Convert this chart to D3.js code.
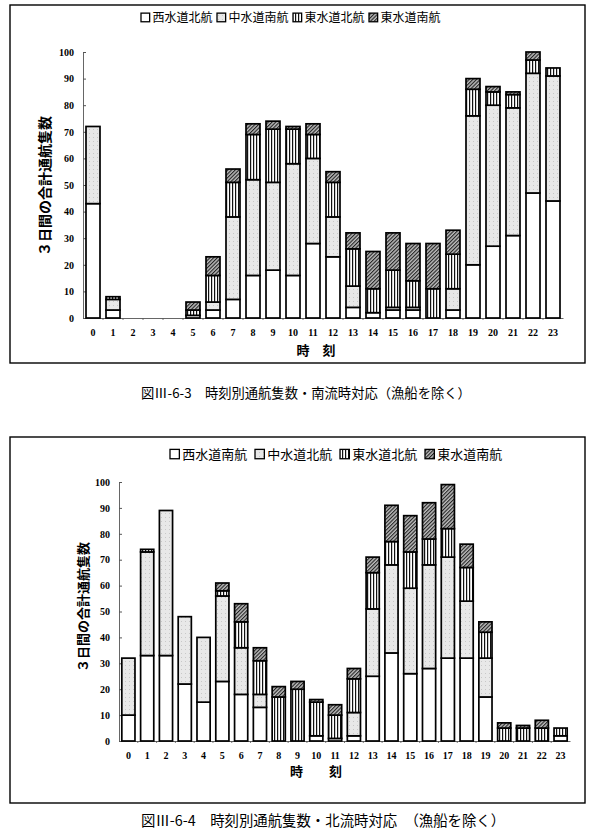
<!DOCTYPE html>
<html><head><meta charset="utf-8">
<script src="https://cdn.jsdelivr.net/npm/d3@7"></script>
<style>body{margin:0;background:#fff}svg{display:block}</style>
</head><body>
<svg id="c" width="600" height="839"></svg>
<script>
const hours = ["0","1","2","3","4","5","6","7","8","9","10","11","12","13","14","15","16","17","18","19","20","21","22","23"];
const yTicks = [0,10,20,30,40,50,60,70,80,90,100];
const legend1 = ["西水道北航","中水道南航","東水道北航","東水道南航"];
const legend2 = ["西水道南航","中水道北航","東水道北航","東水道南航"];
// Fig III-6-3 (south flow)
const s1West   = [43,3,0,0,0,1,3,7,16,18,16,28,23,4,2,3,3,0,3,20,27,31,47,44];
const s1Center = [29,4,0,0,0,0,3,31,36,33,42,32,15,8,0,1,1,0,8,56,53,48,45,47];
const s1EastN  = [0,1,0,0,0,2,10,13,17,20,13,9,13,14,9,14,10,11,13,10,5,5,5,3];
const s1EastS  = [0,0,0,0,0,3,7,5,4,3,1,4,4,6,14,14,14,17,9,4,2,1,3,0];
// Fig III-6-4 (north flow)
const s2West   = [10,33,33,22,15,23,18,13,0,0,2,1,2,25,34,26,28,32,32,17,0,0,0,2];
const s2Center = [22,40,56,26,25,33,18,5,0,0,0,0,9,26,34,33,40,39,22,15,0,0,0,0];
const s2EastN  = [0,1,0,0,0,2,10,13,17,20,13,9,13,14,9,14,10,11,13,10,5,5,5,3];
const s2EastS  = [0,0,0,0,0,3,7,5,4,3,1,4,4,6,14,14,14,17,9,4,2,1,3,0];
const caption1 = "図Ⅲ-6-3　時刻別通航隻数・南流時対応（漁船を除く）";
const caption2 = "図Ⅲ-6-4　時刻別通航隻数・北流時対応　（漁船を除く）";
const yTitle = "３日間の合計通航隻数";

const svg = d3.select("#c");
const defs = svg.append("defs");
// stipple gray
const pg = defs.append("pattern").attr("id","pGray").attr("patternUnits","userSpaceOnUse").attr("width",4).attr("height",4);
pg.append("rect").attr("width",4).attr("height",4).attr("fill","#e8e8e8");
pg.append("rect").attr("x",1).attr("y",1).attr("width",1).attr("height",1).attr("fill","#c8c8c8");
// vertical stripes
const ps = defs.append("pattern").attr("id","pStripe").attr("patternUnits","userSpaceOnUse").attr("width",3).attr("height",3);
ps.append("rect").attr("width",3).attr("height",3).attr("fill","#fff");
ps.append("rect").attr("x",1).attr("width",1.2).attr("height",3).attr("fill","#111");
// diagonal hatch
const ph = defs.append("pattern").attr("id","pHatch").attr("patternUnits","userSpaceOnUse").attr("width",2.6).attr("height",2.6).attr("patternTransform","rotate(45)");
ph.append("rect").attr("width",2.6).attr("height",2.6).attr("fill","#bbb");
ph.append("rect").attr("width",1.1).attr("height",2.6).attr("fill","#222");

const fills = ["#fff","url(#pGray)","url(#pStripe)","url(#pHatch)"];
const serif = "'Liberation Serif','DejaVu Serif',serif";
const jp = "'Noto Sans CJK JP','Noto Sans CJK SC',sans-serif";

function drawChart(cfg){
  const g = svg.append("g");
  g.append("rect").attr("x",cfg.fx).attr("y",cfg.fy).attr("width",cfg.fw).attr("height",cfg.fh)
    .attr("fill","none").attr("stroke","#000").attr("stroke-width",1.4);
  const x = d3.scaleBand().domain(hours).range([cfg.x0,cfg.x1]).paddingInner(0.3).paddingOuter(0.15);
  const y = d3.scaleLinear().domain([0,100]).range([cfg.y0,cfg.y1]);
  const keys = ["a","b","c","d"];
  const rows = hours.map((h,i)=>({h, a:cfg.series[0][i], b:cfg.series[1][i], c:cfg.series[2][i], d:cfg.series[3][i]}));
  const stack = d3.stack().keys(keys)(rows);
  // axes
  const ya = g.append("g").attr("transform",`translate(${cfg.x0},0)`)
    .call(d3.axisLeft(y).tickValues(yTicks).tickSizeInner(-3).tickSizeOuter(0).tickPadding(9));
  ya.select(".domain").attr("stroke","#555").attr("stroke-width",0.9);
  ya.selectAll(".tick line").attr("stroke","#555");
  ya.selectAll("text").attr("font-family",serif).attr("font-weight","bold").attr("font-size",cfg.tickFs).attr("fill","#000");
  const xa = g.append("g").attr("transform",`translate(0,${cfg.y0})`)
    .call(d3.axisBottom(x).tickSize(0).tickPadding(cfg.xPad));
  xa.select(".domain").attr("stroke","#555").attr("stroke-width",0.9);
  xa.selectAll("text").attr("font-family",serif).attr("font-weight","bold").attr("font-size",cfg.tickFs).attr("fill","#000");
  // small ticks between bands
  g.append("g").selectAll("line").data(hours.slice(1)).join("line")
    .attr("x1",d=>x(d)-x.step()*x.paddingInner()/2).attr("x2",d=>x(d)-x.step()*x.paddingInner()/2)
    .attr("y1",cfg.y0).attr("y2",cfg.y0+2).attr("stroke","#555").attr("stroke-width",0.8);
  // bars
  stack.forEach((layer,li)=>{
    g.append("g").selectAll("rect").data(layer.filter(d=>d[1]-d[0]>0)).join("rect")
      .attr("x",d=>x(d.data.h)).attr("width",x.bandwidth())
      .attr("y",d=>y(d[1])).attr("height",d=>y(d[0])-y(d[1]))
      .attr("fill",fills[li]).attr("stroke","#000").attr("stroke-width",1.7);
  });
  // legend
  const lg = g.append("g").attr("transform",`translate(${cfg.lx},${cfg.ly})`);
  cfg.legend.forEach((t,i)=>{
    const ox = i*cfg.lstep;
    lg.append("rect").attr("x",ox).attr("y",-cfg.lfs*0.74).attr("width",cfg.lfs*0.72).attr("height",cfg.lfs*0.72)
      .attr("fill",fills[i]).attr("stroke","#000").attr("stroke-width",1.3);
    lg.append("text").attr("x",ox+cfg.lfs*0.95).attr("y",0).attr("font-family",jp).attr("font-size",cfg.lfs).text(t);
  });
  // y title
  g.append("text").attr("transform",`translate(${cfg.ytx},${cfg.yty}) rotate(-90)`)
    .attr("text-anchor","middle").attr("font-family",jp).attr("font-size",cfg.ytfs).attr("font-weight","bold").text(yTitle);
  // x title
  g.append("text").attr("x",cfg.xtx).attr("y",cfg.xty).attr("text-anchor","middle")
    .attr("font-family",jp).attr("font-weight","bold").attr("font-size",cfg.xtfs).text(cfg.xTitle);
  // caption
  svg.append("text").attr("x",cfg.cx).attr("y",cfg.cy).attr("font-family",jp).attr("font-size",cfg.cfs).text(cfg.caption);
}

drawChart({fx:10,fy:5,fw:575,fh:358,x0:83,x1:563,y0:318,y1:52,tickFs:10,xPad:11,
  series:[s1West,s1Center,s1EastN,s1EastS],legend:legend1,lx:141,ly:22,lstep:76,lfs:12,
  ytx:50,yty:186,ytfs:14,xtx:316,xty:355,xtfs:13,xTitle:"時　刻",caption:caption1,cx:141,cy:398,cfs:13.3});
drawChart({fx:10,fy:437,fw:575,fh:366,x0:119,x1:570,y0:741,y1:482,tickFs:10,xPad:11,
  series:[s2West,s2Center,s2EastN,s2EastS],legend:legend2,lx:170,ly:459,lstep:85,lfs:13,
  ytx:88,yty:607,ytfs:13,xtx:316,xty:776,xtfs:13,xTitle:"時　　刻",caption:caption2,cx:141,cy:826,cfs:14.4});
</script>
</body></html>
